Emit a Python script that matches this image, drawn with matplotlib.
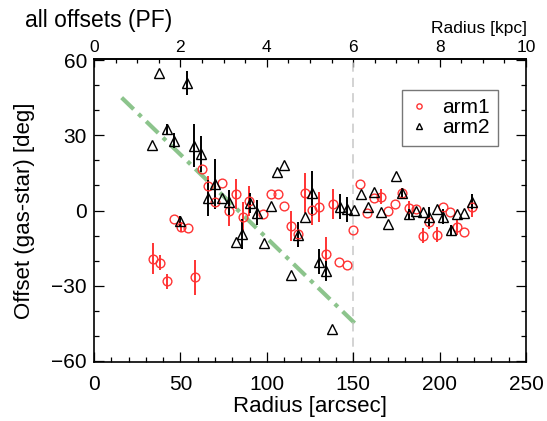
import matplotlib
matplotlib.use("Agg")
import matplotlib.pyplot as plt
import numpy as np

plt.rcParams['font.family'] = ['Liberation Sans', 'DejaVu Sans']

# ---- data ----
arm1_r = [34.0, 38.2, 42.2, 46.1, 50.2, 54.2, 58.3, 62.3, 66.2, 70.0, 74.1, 78.3,
          82.2, 86.0, 89.9, 98.0, 102.2, 106.3, 110.2, 114.0, 117.9, 122.1, 126.2,
          130.2, 134.1, 138.1, 142.0, 146.2, 150.1, 154.1, 158.2, 162.2, 166.3,
          170.4, 174.2, 178.4, 182.3, 186.3, 190.2, 194.0, 198.3, 202.1, 206.0,
          210.2, 214.3, 218.6]
arm1_off = [-19.2, -20.9, -28.2, -3.5, -6.6, -7.1, -26.6, 16.4, 9.7, 3.5, 10.8, -0.1,
            6.4, -2.7, 3.8, -1.4, 6.5, 6.5, 1.8, -6.1, -9.4, 7.1, 0.2,
            1.5, -17.3, 2.6, -20.5, -21.6, -7.7, 10.4, -1.1, 4.8, 5.5,
            -0.1, 2.5, 6.8, 0.9, 0.5, -10.1, -4.4, -9.7, 1.5, -0.7,
            -6.7, -8.4, 1.5]
arm1_err = [6.3, 3, 3, 0, 2, 0, 6.9, 0, 4, 0, 0, 6,
            6, 6, 6, 0, 0, 0, 0, 6, 5, 8, 6,
            6, 6.6, 6, 0, 0, 0, 0, 0, 0, 3,
            0, 0, 2, 3, 0, 3, 3, 3, 0, 0,
            3, 0, 4]

arm2_r = [33.8, 37.8, 42.1, 46.1, 49.6, 53.8, 58.0, 62.0, 65.7, 70.0, 74.1, 78.3,
          82.2, 85.8, 90.3, 94.1, 98.2, 102.2, 106.1, 110.2, 114.0, 117.9, 122.3,
          126.2, 130.2, 134.1, 137.9, 142.2, 146.2, 150.5, 154.4, 158.3, 162.2,
          166.3, 170.4, 174.6, 178.1, 182.3, 186.3, 190.2, 194.0, 198.3, 202.1,
          206.4, 210.2, 214.3, 218.6]
arm2_off = [26.2, 55.0, 32.3, 27.9, -4.0, 51.0, 25.9, 22.5, 5.0, 10.5, 4.8, 3.2,
            -12.7, -9.3, 2.9, -0.9, -13.0, 1.8, 15.4, 18.3, -25.9, -9.7, -2.4,
            6.8, -20.5, -24.0, -47.3, 1.5, 0.5, 0.2, 6.6, 1.2, 7.4,
            -0.7, -5.3, 13.7, 6.8, -1.4, -0.2, -0.7, -2.5, 0.5, -2.5,
            -7.7, -1.4, -1.1, 3.5]
arm2_err = [0, 0, 2, 3, 2, 4.8, 8.6, 7.3, 7, 10, 0, 5,
            0, 6, 4, 5, 0, 0, 0, 0, 0, 5, 0,
            9, 5, 4, 0, 5, 5, 0, 0, 0, 0,
            0, 0, 0, 2, 2, 0, 0, 4, 0, 3,
            2, 0, 0, 3]

fit_r = [16.0, 151.0]
fit_off = [45.0, -45.0]
r_cut = 150.0
arcsec_per_kpc = 25.0

xticks = [0, 50, 100, 150, 200, 250]
yticks = [-60, -30, 0, 30, 60]
kpc_ticks = [0, 2, 4, 6, 8, 10]

# ---- figure ----
fig = plt.figure(figsize=(5.47, 4.21), dpi=100)
ax = fig.add_axes([94/547, 1-362/421, 432/547, 303/421])

ax.plot(fit_r, fit_off, color='#8cc48c', lw=3.0,
        linestyle=(0, (4, 1.6, 1, 1.6)), zorder=1)
ax.axvline(r_cut, color='#c8c8c8', lw=1.1, linestyle=(0, (6, 4)), zorder=1)

a1e = np.array(arm1_err)
a2e = np.array(arm2_err)
ax.errorbar(arm1_r, arm1_off, yerr=a1e, fmt='none', ecolor='#ff3333',
            elinewidth=1.4, capsize=0, zorder=2)
ax.errorbar(arm2_r, arm2_off, yerr=a2e, fmt='none', ecolor='black',
            elinewidth=1.4, capsize=0, zorder=2)
ax.plot(arm1_r, arm1_off, 'o', ms=6.3, mfc='none', mec='#ff3333', mew=1.0,
        zorder=3, label='arm1')
ax.plot(arm2_r, arm2_off, '^', ms=6.5, mfc='none', mec='black', mew=1.0,
        zorder=3, label='arm2')

ax.set_xlim(0, 250)
ax.set_ylim(-60.4, 60.4)
ax.set_xticks(xticks)
ax.set_yticks(yticks)
ax.set_xticks(np.arange(0, 251, 10), minor=True)
ax.set_yticks(np.arange(-60, 61, 10), minor=True)
ax.tick_params(which='both', direction='in', top=False, right=True,
               labelsize=15)
ax.tick_params(axis='x', pad=9)
ax.tick_params(axis='y', pad=5)
ax.tick_params(which='major', length=7, width=0.9)
ax.tick_params(which='minor', length=3.5, width=0.9)
for s in ax.spines.values():
    s.set_linewidth(1.2)

ax.set_xlabel('Radius [arcsec]', fontsize=16, labelpad=2)
ax.set_ylabel('Offset (gas-star) [deg]', fontsize=16, labelpad=12)

sec = ax.secondary_xaxis('top', functions=(lambda x: x/arcsec_per_kpc,
                                           lambda k: k*arcsec_per_kpc))
sec.set_xticks(kpc_ticks)
sec.set_xticks(np.arange(0, 10.01, 0.5), minor=True)
sec.tick_params(which='both', direction='in', labelsize=12.5, pad=3)
sec.tick_params(which='major', length=6, width=0.9)
sec.tick_params(which='minor', length=3, width=0.9)
sec.spines['top'].set_linewidth(1.2)
fig.text(527/547, 1-28/421, 'Radius [kpc]', fontsize=12.5, ha='right', va='center')

fig.text(25/547, 1-21/421, 'all offsets (PF)', fontsize=16.5, ha='left', va='center')

leg = ax.legend(loc='upper right', bbox_to_anchor=(0.935, 0.898), fontsize=15,
                borderaxespad=0,
                markerscale=0.6, handlelength=0.8, handletextpad=0.7,
                borderpad=0.4, labelspacing=0.05, fancybox=False, framealpha=1)
leg.get_frame().set_edgecolor('#777777')
leg.get_frame().set_linewidth(1.0)

fig.savefig('out.png', dpi=100)
